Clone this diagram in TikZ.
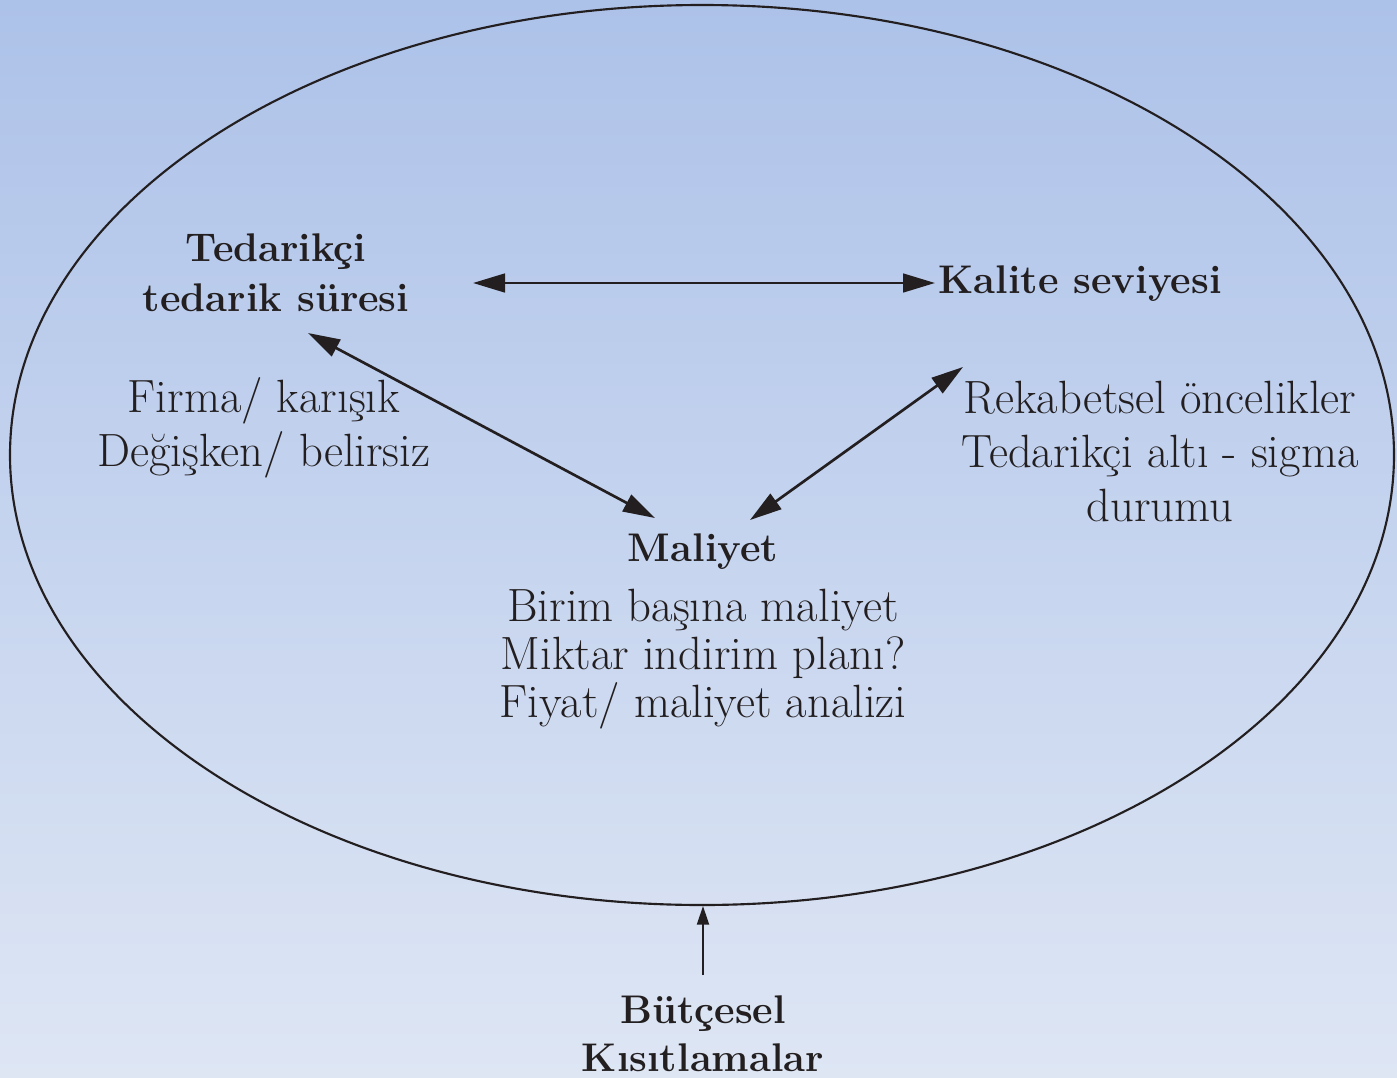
\documentclass[tikz,border=0pt]{standalone}
\usepackage{fontspec}
\usetikzlibrary{arrows.meta}
\definecolor{bgtop}{RGB}{173,194,233}
\definecolor{bgbot}{RGB}{222,230,244}
\definecolor{ink}{RGB}{35,31,32}
\tikzset{
  txt/.style={text=ink, align=center, inner sep=0pt, font=\fontsize{35}{36}\selectfont},
  wtxt/.style={txt, font=\fontsize{35}{40.5}\selectfont},
  btxt/.style={txt, font=\fontsize{30}{37.5}\selectfont\bfseries},
  conn/.style={draw=ink, line width=2pt, {Triangle[length=24pt,width=14pt]}-{Triangle[length=24pt,width=14pt]}},
  oneway/.style={draw=ink, line width=1.6pt, -{Triangle[length=14pt,width=9pt]}}
}
\begin{document}
\begin{tikzpicture}[x=0.75pt,y=-0.75pt]
\shade[top color=bgtop, bottom color=bgbot] (0,0) rectangle (1397,1078);
\useasboundingbox (0,0) rectangle (1397,1078);
\draw[ink, line width=1.6pt] (702,455) ellipse [x radius=692, y radius=450];

\node[btxt] (ted) at (276,273) {Tedarikçi\\tedarik süresi};
\node[btxt] (kal) at (1080,284) {Kalite seviyesi};
\node[wtxt] (fir) at (264,428) {Firma/ karışık\\Değişken/ belirsiz};
\node[wtxt] (rek) at (1160,451) {Rekabetsel öncelikler\\Tedarikçi altı - sigma\\durumu};
\node[btxt] (mal) at (703,552) {Maliyet};
\node[txt] (det) at (703,659) {Birim başına maliyet\\Miktar indirim planı?\\Fiyat/ maliyet analizi};
\node[btxt, font=\fontsize{30}{36}\selectfont\bfseries] (but) at (703,1034) {Bütçesel\\Kısıtlamalar};

\coordinate (a1) at (473,283);
\coordinate (a2) at (935,283);
\coordinate (b1) at (308,333);
\coordinate (b2) at (655,518);
\coordinate (c1) at (963,367);
\coordinate (c2) at (750,520);
\coordinate (d1) at (703,975);
\coordinate (d2) at (703,906);

\draw[conn] (a1) -- (a2);
\draw[conn] (b1) -- (b2);
\draw[conn] (c1) -- (c2);
\draw[oneway] (d1) -- (d2);
\end{tikzpicture}
\end{document}
